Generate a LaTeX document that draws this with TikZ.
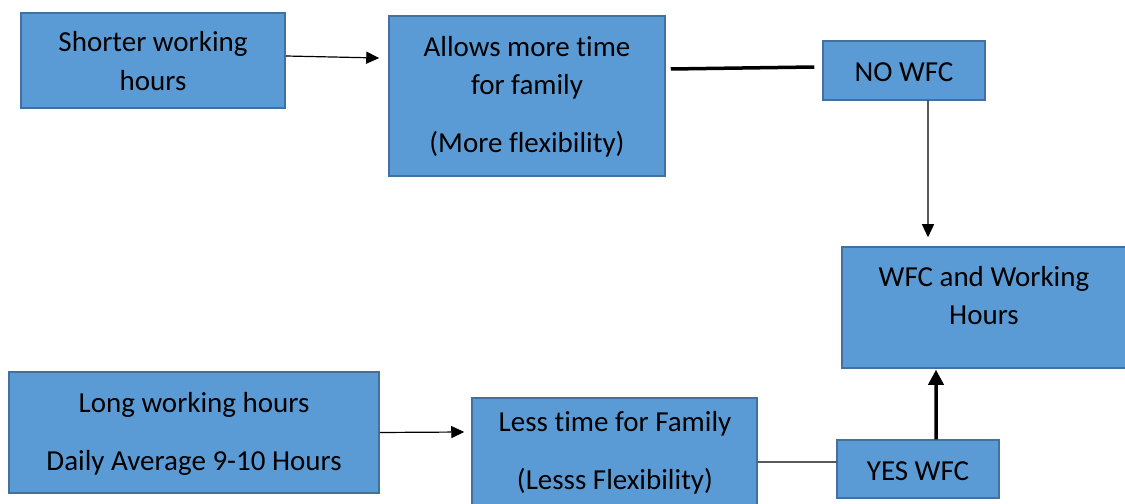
\documentclass[tikz,border=0pt]{standalone}
\usepackage{fontspec}
\setmainfont{Carlito}[Ligatures=NoCommon]
\usetikzlibrary{arrows.meta}
\definecolor{boxfill}{HTML}{5B9BD5}
\definecolor{boxline}{HTML}{41719C}
\begin{document}
\begin{tikzpicture}[x=1bp,y=-1bp,
  box/.style={draw=boxline,line width=1.5bp,fill=boxfill,inner sep=0pt,
    minimum width=#1},
  txt/.style={anchor=base,inner sep=0pt,text=black,
    font=\fontsize{29bp}{35bp}\selectfont},
  thin/.style={line width=1.2bp,draw=black},
  thick/.style={line width=3.5bp,draw=black},
  arr/.style={-{Triangle[length=13bp,width=12bp]}},
  bigarr/.style={-{Triangle[length=15bp,width=15bp]}}]
\useasboundingbox (0,0) rectangle (1125,504);
\clip (0,0) rectangle (1125,504);
\fill[white] (0,0) rectangle (1125,504);

% boxes
\node[box=264bp,minimum height=95bp]  (short) at (153,60.5) {};
\node[box=276bp,minimum height=160bp] (more)  at (527,96) {};
\node[box=162bp,minimum height=59bp]  (nowfc) at (904,70.5) {};
\node[box=284bp,minimum height=121bp] (wfc)   at (984,307.5) {};
\node[box=370bp,minimum height=121bp] (long)  at (194,432.5) {};
\node[box=285bp,minimum height=112bp] (less)  at (614.5,454) {};
\node[box=162bp,minimum height=58bp]  (yes)   at (918,469) {};

% texts
\node[txt] (t1a) at (153,52)  {Shorter working};
\node[txt] (t1b) at (153,91)  {hours};
\node[txt] (t2a) at (527,57)  {Allows more time};
\node[txt] (t2b) at (527,95)  {for family};
\node[txt] (t2c) at (527,153) {(More flexibility)};
\node[txt] (t3)  at (904,82)  {NO WFC};
\node[txt] (t4a) at (984,287) {WFC and Working};
\node[txt] (t4b) at (984,325) {Hours};
\node[txt] (t5a) at (194,412) {Long working hours};
\node[txt] (t5b) at (194,470) {Daily Average 9-10 Hours};
\node[txt] (t6a) at (615,431) {Less time for Family};
\node[txt] (t6b) at (615,489) {(Lesss Flexibility)};
\node[txt] (t7)  at (918,480) {YES WFC};

% connectors
\draw[thin,arr] ([yshift=4.5bp]short.east) -- ([xshift=-9bp,yshift=38bp]more.west);
\draw[thick] ([xshift=5bp,yshift=27bp]more.east) -- ([xshift=-8bp,yshift=3.5bp]nowfc.west);
\draw[thin,arr] ([xshift=24bp]nowfc.south) -- ([xshift=-56bp,yshift=9bp]wfc.north);
\draw[thin,arr] (long.east) -- ([xshift=-7bp,yshift=22bp]less.west);
\draw[thin] ([yshift=-8bp]less.east) -- ([yshift=7bp]yes.west);
\draw[thick,bigarr] ([xshift=18bp]yes.north) -- ([xshift=-48bp,yshift=-1bp]wfc.south);
\end{tikzpicture}
\end{document}
